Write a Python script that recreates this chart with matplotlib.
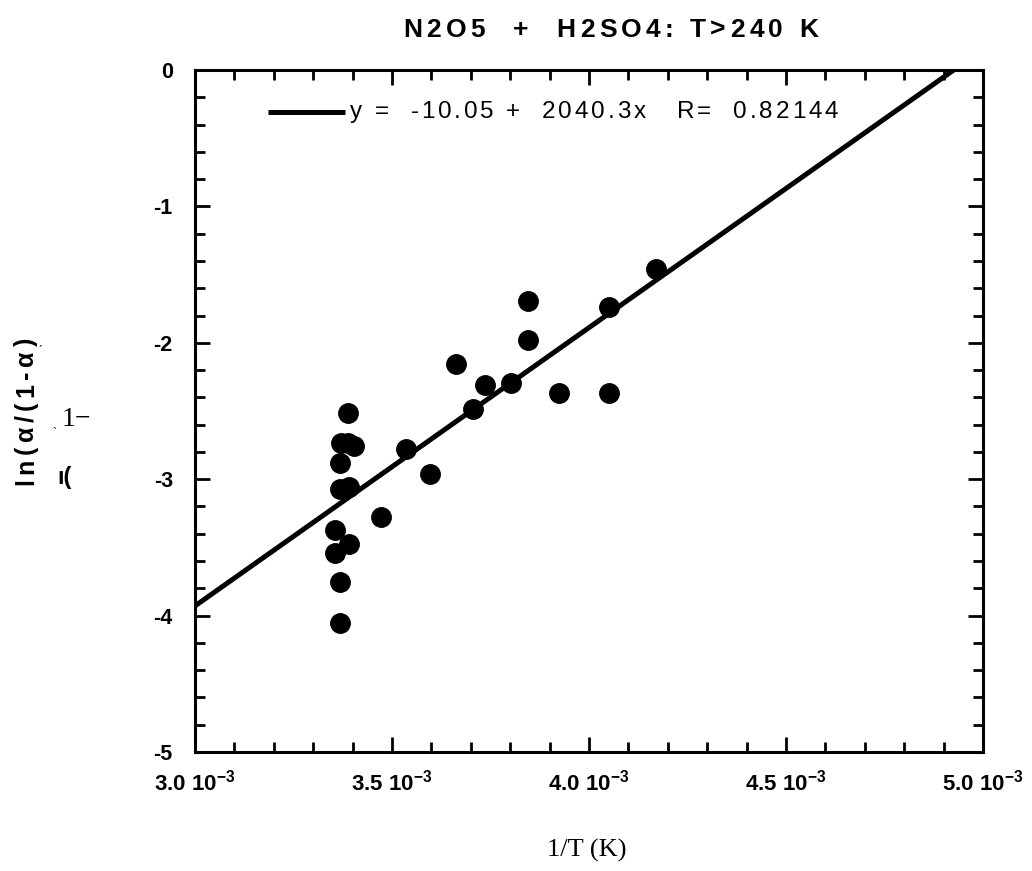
import matplotlib
matplotlib.use("Agg")
import matplotlib.pyplot as plt
import numpy as np
from matplotlib.ticker import MultipleLocator, FixedLocator, FixedFormatter
from matplotlib.font_manager import FontProperties

plt.rcParams['font.family'] = ['Liberation Sans', 'DejaVu Sans']
plt.rcParams['axes.unicode_minus'] = False
plt.rcParams['mathtext.fontset'] = 'custom'
plt.rcParams['mathtext.rm'] = 'Liberation Sans:bold'
plt.rcParams['mathtext.it'] = 'Liberation Sans:bold'
plt.rcParams['mathtext.bf'] = 'Liberation Sans:bold'

# Data: 1/T (in units of 1e-3 K^-1) and ln(alpha/(1-alpha))
inv_T_e3 = [3.388, 3.370, 3.388, 3.403, 3.368, 3.368, 3.391, 3.472, 3.536, 3.596,
            3.706, 3.355, 3.391, 3.355, 3.368, 3.368, 3.736, 3.802, 3.662,
            3.845, 3.845, 3.924, 4.051, 4.051, 4.170]
ln_ratio = [-2.515, -2.735, -2.735, -2.757, -2.880, -3.075, -3.060, -3.277, -2.779, -2.962,
            -2.485, -3.372, -3.475, -3.541, -3.754, -4.054, -2.309, -2.295, -2.155,
            -1.694, -1.979, -2.368, -2.368, -1.738, -1.459]
fit_a = -10.05
fit_b = 2040.3
fit_R = 0.82144

x_ticks = [0.0030, 0.0035, 0.0040, 0.0045, 0.0050]
x_tick_labels = [r"3.0 10$^{-3}$", r"3.5 10$^{-3}$", r"4.0 10$^{-3}$", r"4.5 10$^{-3}$", r"5.0 10$^{-3}$"]
y_ticks = [0, -1, -2, -3, -4, -5]

W, H = 1032, 871
fig = plt.figure(figsize=(W / 100, H / 100), dpi=100)
ax = fig.add_axes([195 / W, 1 - 752 / H, (983 - 195) / W, (752 - 70) / H])
renderer = fig.canvas.get_renderer()


def _w(s, prop):
    if not s:
        return 0.0
    w1, _, _ = renderer.get_text_width_height_descent(s + "x", prop, ismath=False)
    w0, _, _ = renderer.get_text_width_height_descent("x", prop, ismath=False)
    return w1 - w0


def spaced_text(s, x0, y0, x_end, size, weight='normal', family=None, vertical=False):
    """Draw letter-spaced text from x0 to x_end (pixels, along reading direction)."""
    fam = family if family else ['Liberation Sans', 'DejaVu Sans']
    prop = FontProperties(family=fam, size=size, weight=weight)
    natural = _w(s, prop)
    n = len(s)
    track = ((abs(x_end - x0) - natural) / (n - 1)) if n > 1 else 0
    for i, ch in enumerate(s):
        if ch == " ":
            continue
        off = _w(s[:i], prop) + i * track
        if not vertical:
            fig.text((x0 + off) / W, 1 - y0 / H, ch, fontproperties=prop,
                     ha='left', va='center')
        else:
            fig.text(y0 / W, 1 - (x0 - off) / H, ch, fontproperties=prop,
                     rotation=90, rotation_mode='anchor', ha='left', va='baseline')


x = np.array(inv_T_e3) * 1e-3
y = np.array(ln_ratio)
ax.plot(x, y, 'o', color='black', markersize=14, zorder=3)

xf = np.linspace(0.0030, 0.0050, 200)
ax.plot(xf, fit_a + fit_b * xf, color='black', linewidth=3.6, solid_capstyle='butt', zorder=2)

ax.set_xlim(0.0030, 0.0050)
ax.set_ylim(-5, 0)

ax.xaxis.set_major_locator(FixedLocator(x_ticks))
ax.xaxis.set_major_formatter(FixedFormatter(x_tick_labels))
ax.xaxis.set_minor_locator(MultipleLocator(0.0001))
ax.yaxis.set_major_locator(FixedLocator(y_ticks))
ax.yaxis.set_minor_locator(MultipleLocator(0.2))

ax.tick_params(which='both', direction='in', top=True, right=True, width=2)
ax.tick_params(which='major', length=11)
ax.tick_params(which='minor', length=7)
ax.tick_params(axis='x', labelsize=16, pad=13)
ax.tick_params(axis='y', labelsize=15.5, pad=16)
for lbl in ax.get_xticklabels() + ax.get_yticklabels():
    lbl.set_fontweight('bold')
for s in ax.spines.values():
    s.set_linewidth(2.2)

# legend-like annotation
ax.plot([0.0031855, 0.0033805], [-0.31, -0.31], color='black', linewidth=3.6,
        solid_capstyle='butt', clip_on=False)
spaced_text("y =  -10.05 +  2040.3x   R=  %.5f" % fit_R, 350, 112, 838, 17.5)

# title
spaced_text("N2O5  +  H2SO4: T>240 K", 403, 30, 818, 19, weight='bold')

# x label
fig.text(587 / W, 1 - 850 / H, "1/T (K)", fontsize=19, family='Liberation Serif',
         ha='center', va='center')

# y label (garbled as in the original)
spaced_text("ln(α/(1-α)", 485, 33, 338, 18, weight='bold', vertical=True)
fig.text(62 / W, 1 - 420 / H, "1−", fontsize=20, family='Liberation Serif',
         ha='left', va='center')
fig.text(57 / W, 1 - 477 / H, "ı(", fontsize=17, fontweight='bold',
         ha='left', va='center')
fig.text(54 / W, 1 - 434 / H, "`", fontsize=9, ha='center', va='center')
fig.text(41 / W, 1 - 352 / H, "´", fontsize=9, ha='center', va='center')

fig.savefig("out.png", dpi=100)
